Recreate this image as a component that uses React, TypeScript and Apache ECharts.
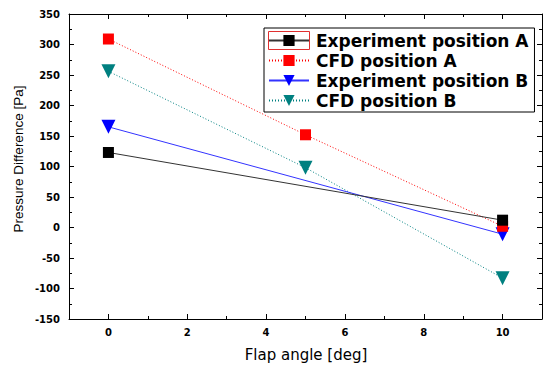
import React, { useEffect, useRef } from "react";
import * as echarts from "echarts";

const flapAngle3 = [0, 5, 10];
const flapAngle2 = [0, 10];
const expA = [123, 12];
const cfdA = [309, 152, 2];
const expB = [165, -11];
const cfdB = [256, 98, -83];
const xMajorTicks = [0, 2, 4, 6, 8, 10];
const xMinorTicks = [1, 3, 5, 7, 9];
const seriesNames = ["Experiment position A", "CFD position A", "Experiment position B", "CFD position B"];
const xTitle = "Flap angle [deg]";
const yTitle = "Pressure Difference [Pa]";

export default function App() {
  const ref = useRef<HTMLDivElement>(null);
  useEffect(() => {
    if (!ref.current) return;
    const chart = echarts.init(ref.current, null, { renderer: "svg" });
    const tickFont = { fontFamily: "DejaVu Sans", fontWeight: "bold" as const, fontSize: 10, color: "#000" };
    const axisLine = { show: true, onZero: false, lineStyle: { color: "#000", width: 1 } };
    const xBase = (pos: string, ticks: number[], len: number, line: boolean, labels: boolean) => ({
      type: "value",
      position: pos,
      min: -1,
      max: 11,
      gridIndex: 0,
      axisLine: line ? axisLine : { show: false, onZero: false },
      axisTick: { show: true, inside: true, length: len, customValues: ticks, lineStyle: { color: "#000" } },
      axisLabel: labels ? { show: true, customValues: ticks, margin: 8, ...tickFont } : { show: false },
      splitLine: { show: false },
    });
    const yBase = (pos: string, labels: boolean) => ({
      type: "value",
      position: pos,
      min: -150,
      max: 350,
      interval: 50,
      axisLine,
      axisTick: { show: true, inside: true, length: 5, lineStyle: { color: "#000" } },
      minorTick: { show: true, splitNumber: 2, length: 3, lineStyle: { color: "#000" } },
      axisLabel: labels ? { show: true, margin: 9, ...tickFont } : { show: false },
      splitLine: { show: false },
    });
    const zip = (xs: number[], ys: number[]) => xs.map((x, i) => [x, ys[i]]);
    chart.setOption({
      animation: false,
      backgroundColor: "#fff",
      grid: { left: 69, right: 2, top: 14, bottom: 46, outerBoundsMode: "none", containLabel: false },
      xAxis: [
        xBase("bottom", xMajorTicks, 5, true, true),
        xBase("bottom", xMinorTicks, 3, false, false),
        xBase("top", xMajorTicks, 5, true, false),
        xBase("top", xMinorTicks, 3, false, false),
      ],
      yAxis: [yBase("left", true), yBase("right", false)],
      legend: {
        left: 264,
        top: 28,
        orient: "vertical",
        data: seriesNames,
        itemWidth: 40,
        itemHeight: 14,
        itemGap: 3,
        padding: [4, 6, 3, 4],
        borderColor: "#000",
        borderWidth: 1,
        backgroundColor: "#fff",
        textStyle: { fontFamily: "DejaVu Sans", fontWeight: "bold", fontSize: 17, color: "#000", padding: [0, 0, 0, 2] },
      },
      graphic: [
        {
          type: "rect",
          z: 100,
          shape: { x: 268.5, y: 31.5, width: 41, height: 18 },
          style: { fill: "none", stroke: "#e03030", lineWidth: 1 },
        },
        {
          type: "text",
          x: 306,
          y: 355,
          style: { text: xTitle, fontFamily: "DejaVu Sans", fontSize: 15, fill: "#000", align: "center", verticalAlign: "middle" },
        },
        {
          type: "text",
          x: 18.5,
          y: 159,
          rotation: Math.PI / 2,
          style: { text: yTitle, fontFamily: "Liberation Sans", fontSize: 13.5, fill: "#000", align: "center", verticalAlign: "middle" },
        },
      ],
      series: [
        {
          name: seriesNames[0],
          type: "line",
          data: zip(flapAngle2, expA),
          symbol: "rect",
          symbolSize: 11,
          itemStyle: { color: "#000" },
          lineStyle: { color: "#333", width: 1, type: "solid" },
          z: 4,
        },
        {
          name: seriesNames[1],
          type: "line",
          data: zip(flapAngle3, cfdA),
          symbol: "rect",
          symbolSize: 11,
          itemStyle: { color: "#ff0000" },
          lineStyle: { color: "#ff0000", width: 1, type: [1, 2] },
          z: 3,
        },
        {
          name: seriesNames[2],
          type: "line",
          data: zip(flapAngle2, expB),
          symbol: "triangle",
          symbolRotate: 180,
          symbolSize: 14,
          itemStyle: { color: "#0000ff" },
          lineStyle: { color: "#3333ff", width: 1, type: "solid" },
          z: 2,
        },
        {
          name: seriesNames[3],
          type: "line",
          data: zip(flapAngle3, cfdB),
          symbol: "triangle",
          symbolRotate: 180,
          symbolSize: 14,
          itemStyle: { color: "#008080" },
          lineStyle: { color: "#008080", width: 1, type: [1, 2] },
          z: 1,
        },
      ],
    });
    return () => chart.dispose();
  }, []);
  return <div ref={ref} style={{ position: "fixed", left: 0, top: 0, width: 544, height: 365 }} />;
}
